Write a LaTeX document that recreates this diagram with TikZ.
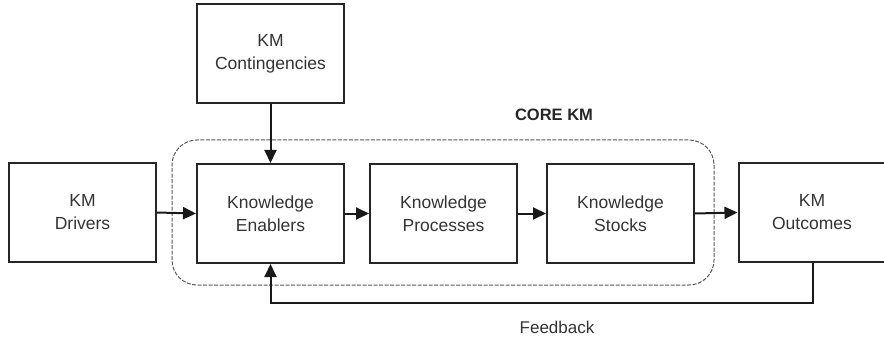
\documentclass[tikz,border=0pt]{standalone}
\usepackage{fontspec}
\setmainfont{Liberation Sans}
\usetikzlibrary{arrows.meta}
\begin{document}
\begin{tikzpicture}[x=1pt,y=1pt,
  box/.style={draw=black!85, line width=2pt, minimum width=147pt, minimum height=99pt,
    align=center, font=\fontsize{17.5}{23}\selectfont, text=black!80, inner sep=0pt},
  link/.style={draw=black!90, line width=2pt, -{Triangle[length=13pt,width=12pt]}},
  corebox/.style={draw=black!65, line width=1pt, dash pattern=on 4pt off 1.5pt, rounded corners=25pt}]
\useasboundingbox (0,0) rectangle (884,338);
% blocks
\node[box] (drv) at (82.5,125.5) {KM\\Drivers};
\node[box] (enb) at (270.5,124.5) {Knowledge\\Enablers};
\node[box] (prc) at (443.5,124.5) {Knowledge\\Processes};
\node[box] (stk) at (620.5,124.5) {Knowledge\\Stocks};
\node[box] (out) at (812,125.5) {KM\\Outcomes};
\node[box] (cnt) at (270.5,284) {KM\\Contingencies};
% core group
\draw[corebox] (172,53) rectangle (714,198);
\node[font=\fontsize{16.5}{20}\selectfont\bfseries, text=black!85] (core) at (554,223) {CORE KM};
% connectors
\draw[link] (drv.east) -- (enb.west);
\draw[link] (enb.east) -- (prc.west);
\draw[link] (prc.east) -- (stk.west);
\draw[link] (stk.east) -- (out.west);
\draw[link] (cnt.south) -- (enb.north);
\coordinate (fbR) at (813,35);
\coordinate (fbL) at (270.5,35);
\draw[link] (out.south -| fbR) -- (fbR) -- (fbL) -- (enb.south);
\node[font=\fontsize{17}{20}\selectfont, text=black!80] (fb) at (557,11) {Feedback};
\end{tikzpicture}
\end{document}
